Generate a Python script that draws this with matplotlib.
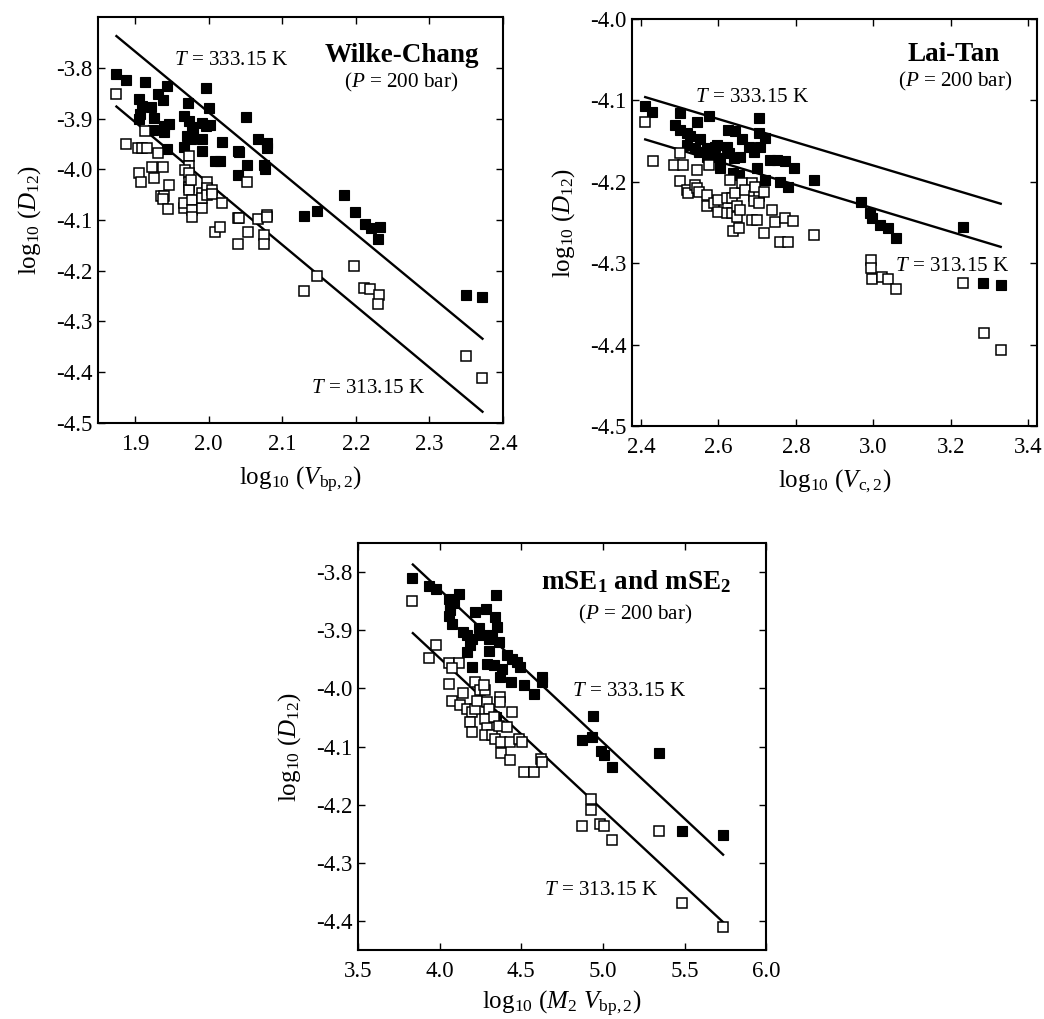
import matplotlib
matplotlib.use("Agg")
import matplotlib.pyplot as plt

plt.rcParams.update({
    "font.family": "Liberation Serif",
    "mathtext.fontset": "custom",
    "mathtext.rm": "Liberation Serif",
    "mathtext.it": "Liberation Serif:italic",
    "mathtext.bf": "Liberation Serif:bold",
    "font.size": 15,
})

# ---------------- Wilke-Chang ----------------
wc_hot_x = [1.875, 1.888, 1.914, 1.931, 1.944, 1.938, 1.905, 1.910, 1.922, 1.907, 1.905,
            1.926, 1.925, 1.940, 1.946, 1.940, 1.944, 1.997, 2.000, 1.972, 1.967, 1.973,
            1.977, 1.979, 1.971, 1.967, 1.976, 1.991, 1.997, 2.002, 1.991, 1.991, 2.018,
            2.009, 2.016, 2.051, 2.040, 2.042, 2.040, 2.052, 2.067, 2.079, 2.079, 2.075,
            2.077, 2.129, 2.147, 2.184, 2.199, 2.212, 2.220, 2.233, 2.230, 2.350, 2.372]
wc_hot_y = [-3.811, -3.823, -3.828, -3.851, -3.835, -3.864, -3.861, -3.874, -3.876, -3.890, -3.901,
            -3.899, -3.923, -3.914, -3.911, -3.927, -3.959, -3.839, -3.879, -3.869, -3.895, -3.905,
            -3.916, -3.927, -3.935, -3.956, -3.941, -3.909, -3.915, -3.912, -3.941, -3.964, -3.946,
            -3.984, -3.984, -3.897, -3.964, -3.966, -4.011, -3.991, -3.941, -3.948, -3.958, -3.991,
            -3.999, -4.091, -4.082, -4.050, -4.085, -4.107, -4.116, -4.113, -4.138, -4.247, -4.252]
wc_cold_x = [1.875, 1.888, 1.904, 1.910, 1.917, 1.914, 1.931, 1.906, 1.908, 1.923, 1.926,
             1.938, 1.947, 1.935, 1.940, 1.938, 1.945, 1.973, 1.973, 1.968, 1.973, 1.973,
             1.973, 1.973, 1.967, 1.967, 1.978, 1.978, 1.978, 1.991, 1.991, 1.991, 1.998,
             1.998, 1.998, 2.005, 2.005, 2.018, 2.009, 2.016, 1.976, 2.040, 2.042, 2.040,
             2.052, 2.053, 2.067, 2.079, 2.079, 2.075, 2.076, 2.130, 2.147, 2.198, 2.211,
             2.219, 2.232, 2.230, 2.350, 2.372]
wc_cold_y = [-3.851, -3.950, -3.957, -3.957, -3.957, -3.925, -3.968, -4.007, -4.024, -3.996, -4.017,
             -3.996, -4.030, -4.053, -4.053, -4.058, -4.078, -3.974, -3.994, -4.002, -4.007, -4.024,
             -4.034, -4.040, -4.076, -4.066, -4.060, -4.080, -4.093, -4.076, -4.047, -4.057, -4.024,
             -4.037, -4.050, -4.040, -4.049, -4.066, -4.124, -4.114, -4.020, -4.095, -4.095, -4.147,
             -4.024, -4.124, -4.098, -4.089, -4.094, -4.129, -4.147, -4.239, -4.211, -4.191, -4.234,
             -4.236, -4.247, -4.265, -4.369, -4.412]
wc_fit_x = [1.875, 2.372]
wc_fit_hot = [-3.737, -4.334]
wc_fit_cold = [-3.876, -4.478]

# ---------------- Lai-Tan ----------------
lt_hot_x = [2.411, 2.428, 2.500, 2.546, 2.575, 2.704, 2.489, 2.502, 2.519, 2.527, 2.519,
            2.540, 2.553, 2.551, 2.570, 2.570, 2.592, 2.588, 2.596, 2.605, 2.605, 2.622,
            2.626, 2.643, 2.639, 2.652, 2.656, 2.660, 2.678, 2.691, 2.708, 2.704, 2.720,
            2.699, 2.720, 2.734, 2.751, 2.759, 2.772, 2.794, 2.781, 2.847, 2.967, 2.992,
            2.996, 3.017, 3.039, 3.059, 3.232, 3.284, 3.331, 2.627, 2.640]
lt_hot_y = [-4.107, -4.114, -4.116, -4.126, -4.119, -4.122, -4.130, -4.136, -4.140, -4.144, -4.155,
            -4.159, -4.148, -4.163, -4.159, -4.169, -4.157, -4.169, -4.155, -4.171, -4.183, -4.157,
            -4.136, -4.138, -4.189, -4.192, -4.169, -4.148, -4.157, -4.163, -4.157, -4.140, -4.146,
            -4.183, -4.198, -4.173, -4.173, -4.200, -4.175, -4.183, -4.207, -4.198, -4.225, -4.239,
            -4.245, -4.253, -4.257, -4.269, -4.256, -4.324, -4.327, -4.165, -4.171]
lt_cold_x = [2.411, 2.430, 2.486, 2.508, 2.500, 2.502, 2.519, 2.521, 2.540, 2.544, 2.549,
             2.544, 2.575, 2.570, 2.570, 2.588, 2.600, 2.600, 2.622, 2.635, 2.622, 2.635,
             2.630, 2.643, 2.648, 2.648, 2.656, 2.637, 2.652, 2.660, 2.686, 2.668, 2.691,
             2.704, 2.691, 2.704, 2.695, 2.718, 2.686, 2.699, 2.718, 2.738, 2.747, 2.772,
             2.759, 2.781, 2.792, 2.847, 2.994, 2.994, 2.996, 3.022, 3.039, 3.059, 3.232,
             3.286, 3.330]
lt_cold_y = [-4.126, -4.175, -4.179, -4.179, -4.165, -4.199, -4.210, -4.214, -4.204, -4.208, -4.212,
             -4.185, -4.179, -4.216, -4.230, -4.226, -4.222, -4.237, -4.239, -4.239, -4.220, -4.220,
             -4.198, -4.214, -4.230, -4.243, -4.235, -4.261, -4.257, -4.202, -4.202, -4.210, -4.218,
             -4.218, -4.224, -4.226, -4.206, -4.212, -4.247, -4.247, -4.263, -4.235, -4.249, -4.245,
             -4.274, -4.274, -4.248, -4.265, -4.296, -4.306, -4.319, -4.317, -4.319, -4.332, -4.324,
             -4.386, -4.407]
lt_fit_x = [2.411, 3.329]
lt_fit_hot = [-4.096, -4.227]
lt_fit_cold = [-4.148, -4.280]

# ---------------- mSE1 and mSE2 ----------------
ms_hot_x = [3.830, 3.933, 3.980, 4.117, 4.346, 4.055, 4.065, 4.061, 4.055, 4.076, 4.086,
            4.219, 4.286, 4.342, 4.352, 4.143, 4.168, 4.198, 4.239, 4.260, 4.301, 4.321,
            4.362, 4.301, 4.188, 4.168, 4.198, 4.290, 4.331, 4.382, 4.372, 4.413, 4.444,
            4.474, 4.495, 4.438, 4.515, 4.577, 4.628, 4.628, 4.941, 4.873, 4.935, 4.986,
            5.006, 5.057, 5.344, 5.487, 5.736, 4.348]
ms_hot_y = [-3.811, -3.824, -3.829, -3.837, -3.840, -3.846, -3.857, -3.866, -3.875, -3.889, -3.854,
            -3.869, -3.863, -3.877, -3.895, -3.903, -3.909, -3.915, -3.897, -3.909, -3.915, -3.909,
            -3.920, -3.935, -3.926, -3.937, -3.963, -3.958, -3.960, -3.966, -3.981, -3.943, -3.949,
            -3.955, -3.963, -3.989, -3.995, -4.009, -3.981, -3.989, -4.048, -4.089, -4.084, -4.107,
            -4.114, -4.136, -4.111, -4.246, -4.253, -4.049]
ms_cold_x = [3.830, 3.978, 3.937, 4.055, 4.117, 4.076, 4.055, 4.076, 4.143, 4.127, 4.168,
             4.198, 4.219, 4.188, 4.198, 4.219, 4.229, 4.250, 4.280, 4.270, 4.290, 4.301,
             4.280, 4.290, 4.280, 4.321, 4.342, 4.331, 4.362, 4.368, 4.372, 4.376, 4.376,
             4.413, 4.444, 4.434, 4.434, 4.485, 4.505, 4.515, 4.577, 4.622, 4.628, 4.873,
             4.930, 4.930, 4.982, 5.006, 5.057, 5.344, 5.487, 5.736]
ms_cold_y = [-3.850, -3.925, -3.948, -3.956, -3.956, -3.965, -3.992, -4.021, -4.008, -4.029, -4.035,
             -4.041, -4.035, -4.058, -4.075, -3.989, -4.021, -4.003, -4.003, -3.995, -4.024, -4.035,
             -4.052, -4.069, -4.081, -4.081, -4.087, -4.049, -4.064, -4.015, -4.024, -4.092, -4.112,
             -4.066, -4.041, -4.092, -4.124, -4.087, -4.092, -4.144, -4.144, -4.121, -4.127, -4.237,
             -4.191, -4.210, -4.233, -4.236, -4.261, -4.246, -4.369, -4.410]
ms_fit_x = [3.836, 5.736]
ms_fit_hot = [-3.787, -4.286]
ms_fit_cold = [-3.905, -4.402]

YLABEL = r"log$_{10}$ ($D_{12}$)"
TICK_FS = 16.5
LABEL_FS = 18
NOTE_FS = 15.2
TITLE_FS = 19.5

fig = plt.figure(figsize=(10.44, 10.19), dpi=100)


def style_axes(ax):
    ax.tick_params(direction="in", length=5, width=1.0, top=True, right=True,
                   labelsize=TICK_FS)
    ax.tick_params(axis="x", pad=8)
    ax.tick_params(axis="y", pad=4)
    for sp in ax.spines.values():
        sp.set_linewidth(1.5)


def draw_panel(ax, hx, hy, cx, cy, fx, fhot, fcold):
    ax.plot(fx, fhot, color="black", lw=1.7, zorder=2)
    ax.plot(fx, fcold, color="black", lw=1.7, zorder=2)
    ax.plot(hx, hy, ls="none", marker="s", ms=7.5, mfc="black", mec="black",
            mew=0.8, zorder=3)
    ax.plot(cx, cy, ls="none", marker="s", ms=7.5, mfc="white", mec="black",
            mew=1.1, zorder=4)
    style_axes(ax)


# Panel: Wilke-Chang
ax1 = fig.add_axes([0.0939, 0.585, 0.388, 0.398])
draw_panel(ax1, wc_hot_x, wc_hot_y, wc_cold_x, wc_cold_y, wc_fit_x, wc_fit_hot, wc_fit_cold)
ax1.set_xlim(1.85, 2.40)
ax1.set_ylim(-4.5, -3.7)
ax1.set_xticks([1.9, 2.0, 2.1, 2.2, 2.3, 2.4])
ax1.set_xticklabels(["1.9", "2.0", "2.1", "2.2", "2.3", "2.4"])
ax1.set_yticks([-4.5, -4.4, -4.3, -4.2, -4.1, -4.0, -3.9, -3.8])
ax1.set_yticklabels(["-4.5", "-4.4", "-4.3", "-4.2", "-4.1", "-4.0", "-3.9", "-3.8"])
ax1.set_xlabel(r"log$_{10}$ ($V_{\mathrm{bp,2}}$)", fontsize=LABEL_FS, labelpad=7)
ax1.set_ylabel(YLABEL, fontsize=LABEL_FS, labelpad=9)
ax1.text(1.953, -3.785, r"$T$ = 333.15 K", fontsize=NOTE_FS, va="center", ha="left")
ax1.text(2.139, -4.432, r"$T$ = 313.15 K", fontsize=NOTE_FS, va="center", ha="left")
ax1.text(2.262, -3.776, "Wilke-Chang", fontsize=TITLE_FS, fontweight="bold",
         va="center", ha="center")
ax1.text(2.262, -3.829, r"($P$ = 200 bar)", fontsize=NOTE_FS, va="center", ha="center")

# Panel: Lai-Tan
ax2 = fig.add_axes([0.6054, 0.582, 0.388, 0.3994])
draw_panel(ax2, lt_hot_x, lt_hot_y, lt_cold_x, lt_cold_y, lt_fit_x, lt_fit_hot, lt_fit_cold)
ax2.set_xlim(2.377, 3.423)
ax2.set_ylim(-4.5, -4.0)
ax2.set_xticks([2.4, 2.6, 2.8, 3.0, 3.2, 3.4])
ax2.set_xticklabels(["2.4", "2.6", "2.8", "3.0", "3.2", "3.4"])
ax2.set_yticks([-4.5, -4.4, -4.3, -4.2, -4.1, -4.0])
ax2.set_yticklabels(["-4.5", "-4.4", "-4.3", "-4.2", "-4.1", "-4.0"])
ax2.set_xlabel(r"log$_{10}$ ($V_{\mathrm{c,2}}$)", fontsize=LABEL_FS, labelpad=7)
ax2.set_ylabel(YLABEL, fontsize=LABEL_FS, labelpad=9)
ax2.text(2.540, -4.097, r"$T$ = 333.15 K", fontsize=NOTE_FS, va="center", ha="left")
ax2.text(3.056, -4.304, r"$T$ = 313.15 K", fontsize=NOTE_FS, va="center", ha="left")
ax2.text(3.207, -4.044, "Lai-Tan", fontsize=TITLE_FS, fontweight="bold",
         va="center", ha="center")
ax2.text(3.212, -4.077, r"($P$ = 200 bar)", fontsize=NOTE_FS, va="center", ha="center")

# Panel: mSE1 and mSE2
ax3 = fig.add_axes([0.3429, 0.0677, 0.391, 0.3994])
draw_panel(ax3, ms_hot_x, ms_hot_y, ms_cold_x, ms_cold_y, ms_fit_x, ms_fit_hot, ms_fit_cold)
ax3.set_xlim(3.5, 6.0)
ax3.set_ylim(-4.45, -3.75)
ax3.set_xticks([3.5, 4.0, 4.5, 5.0, 5.5, 6.0])
ax3.set_xticklabels(["3.5", "4.0", "4.5", "5.0", "5.5", "6.0"])
ax3.set_yticks([-4.4, -4.3, -4.2, -4.1, -4.0, -3.9, -3.8])
ax3.set_yticklabels(["-4.4", "-4.3", "-4.2", "-4.1", "-4.0", "-3.9", "-3.8"])
ax3.set_xlabel(r"log$_{10}$ ($M_2$ $V_{\mathrm{bp,2}}$)", fontsize=LABEL_FS, labelpad=5)
ax3.set_ylabel(YLABEL, fontsize=LABEL_FS, labelpad=9)
ax3.text(4.812, -4.006, r"$T$ = 333.15 K", fontsize=NOTE_FS, va="center", ha="left")
ax3.text(4.638, -4.347, r"$T$ = 313.15 K", fontsize=NOTE_FS, va="center", ha="left")
ax3.text(5.202, -3.816, r"mSE$_{\mathbf{1}}$ and mSE$_{\mathbf{2}}$", fontsize=TITLE_FS,
         fontweight="bold", va="center", ha="center")
ax3.text(5.200, -3.873, r"($P$ = 200 bar)", fontsize=NOTE_FS, va="center", ha="center")

fig.savefig("out.png", dpi=100)
